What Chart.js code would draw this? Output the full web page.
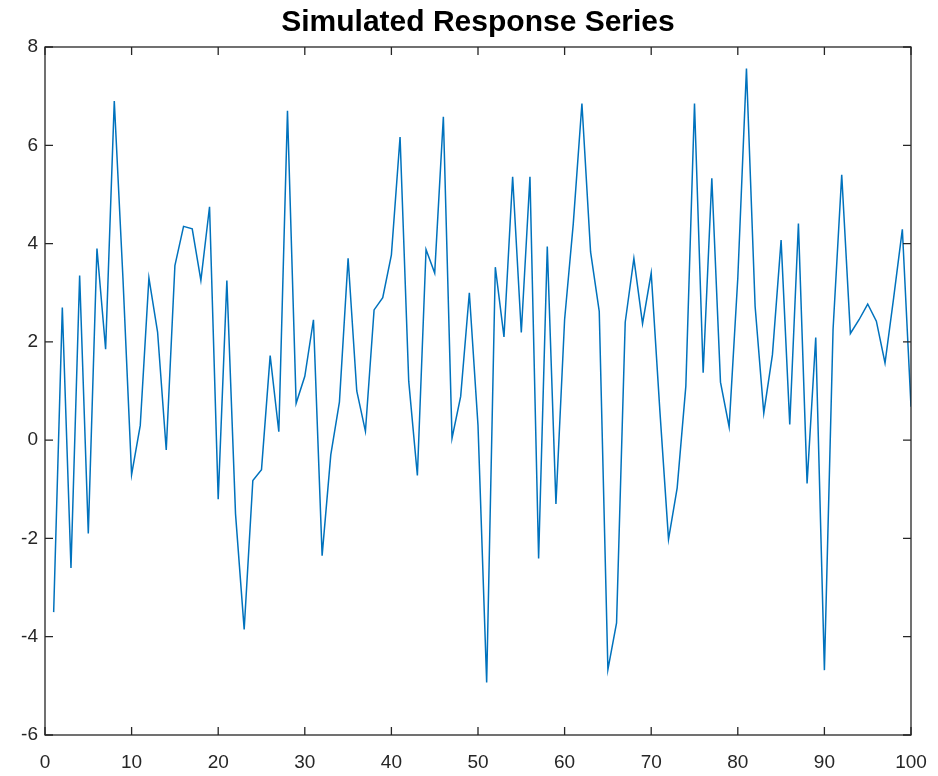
<!DOCTYPE html>
<html>
<head>
<meta charset="utf-8">
<script src="https://cdn.jsdelivr.net/npm/chart.js@4"></script>
<style>
    body { margin: 0; background: #fff; }
    #wrap { width: 938px; height: 776px; }
</style>
</head>
<body>
<div id="wrap"><canvas id="responseChart"></canvas></div>
<script>
/* DATA */
const sampleIndex = [
    1, 2, 3, 4, 5, 6, 7, 8, 9, 10, 11, 12, 13, 14, 15, 16, 17, 18, 19, 20,
    21, 22, 23, 24, 25, 26, 27, 28, 29, 30, 31, 32, 33, 34, 35, 36, 37, 38, 39, 40,
    41, 42, 43, 44, 45, 46, 47, 48, 49, 50, 51, 52, 53, 54, 55, 56, 57, 58, 59, 60,
    61, 62, 63, 64, 65, 66, 67, 68, 69, 70, 71, 72, 73, 74, 75, 76, 77, 78, 79, 80,
    81, 82, 83, 84, 85, 86, 87, 88, 89, 90, 91, 92, 93, 94, 95, 96, 97, 98, 99, 100
];
const response = [
    -3.5, 2.7, -2.6, 3.35, -1.9, 3.9, 1.85, 6.9, 3.3, -0.7,
    0.3, 3.3, 2.2, -0.2, 3.55, 4.35, 4.3, 3.25, 4.75, -1.2,
    3.25, -1.5, -3.85, -0.82, -0.6, 1.72, 0.17, 6.7, 0.75, 1.3,
    2.45, -2.35, -0.3, 0.78, 3.7, 1.0, 0.18, 2.65, 2.9, 3.77,
    6.17, 1.2, -0.72, 3.88, 3.4, 6.58, 0.04, 0.89, 3.0, 0.3,
    -4.93, 3.52, 2.1, 5.36, 2.19, 5.36, -2.41, 3.94, -1.3, 2.45,
    4.4, 6.85, 3.83, 2.62, -4.67, -3.72, 2.4, 3.7, 2.37, 3.4,
    0.6, -2.02, -0.97, 1.1, 6.85, 1.37, 5.33, 1.18, 0.27, 3.3,
    7.56, 2.72, 0.55, 1.74, 4.07, 0.32, 4.41, -0.88, 2.09, -4.68,
    2.25, 5.4, 2.17, 2.45, 2.77, 2.42, 1.57, 2.9, 4.29, 0.68
];
const xTicks = [0, 10, 20, 30, 40, 50, 60, 70, 80, 90, 100];
const yTicks = [-6, -4, -2, 0, 2, 4, 6, 8];

/* CHART CONFIG */
Chart.defaults.font.family = "'Liberation Sans', Arial, Helvetica, sans-serif";
Chart.defaults.color = "#262626";

// matlab-like box with inward ticks on all four sides
const boxTicks = {
    id: "boxTicks",
    afterLayout(chart) {
        // center the title over the plot box, not the whole canvas
        if (chart.titleBlock) {
            chart.titleBlock.left = chart.chartArea.left;
            chart.titleBlock.right = chart.chartArea.right;
        }
    },
    afterDraw(chart) {
        const { ctx, chartArea: a, scales } = chart;
        const len = 8;
        ctx.save();
        ctx.strokeStyle = "#262626";
        ctx.lineWidth = 1.3;
        ctx.strokeRect(a.left, a.top, a.right - a.left, a.bottom - a.top);
        ctx.beginPath();
        scales.x.ticks.forEach(t => {
            const px = scales.x.getPixelForValue(t.value);
            ctx.moveTo(px, a.bottom); ctx.lineTo(px, a.bottom - len);
            ctx.moveTo(px, a.top); ctx.lineTo(px, a.top + len);
        });
        scales.y.ticks.forEach(t => {
            const py = scales.y.getPixelForValue(t.value);
            ctx.moveTo(a.left, py); ctx.lineTo(a.left + len, py);
            ctx.moveTo(a.right, py); ctx.lineTo(a.right - len, py);
        });
        ctx.stroke();
        ctx.restore();
    }
};

new Chart(document.getElementById("responseChart"), {
    type: "line",
    data: {
        datasets: [{
            data: sampleIndex.map((x, i) => ({ x: x, y: response[i] })),
            borderColor: "#0072BD",
            borderWidth: 1.5,
            pointRadius: 0,
            tension: 0,
            fill: false
        }]
    },
    options: {
        responsive: true,
        maintainAspectRatio: false,
        animation: false,
        layout: { padding: { top: 0, right: 27, left: 0, bottom: 0 } },
        scales: {
            x: {
                type: "linear",
                min: xTicks[0],
                max: xTicks[xTicks.length - 1],
                afterBuildTicks: s => { s.ticks = xTicks.map(v => ({ value: v })); },
                afterFit: s => { s.height = 41; s.paddingLeft = 0; s.paddingRight = 0; },
                grid: { display: false, drawTicks: false },
                border: { display: false },
                ticks: { font: { size: 19 }, padding: 16, maxRotation: 0 }
            },
            y: {
                min: yTicks[0],
                max: yTicks[yTicks.length - 1],
                afterBuildTicks: s => { s.ticks = yTicks.map(v => ({ value: v })); },
                afterFit: s => { s.width = 45; },
                grid: { display: false, drawTicks: false },
                border: { display: false },
                ticks: { font: { size: 19 }, padding: 7 }
            }
        },
        plugins: {
            legend: { display: false },
            tooltip: { enabled: false },
            title: {
                display: true,
                text: "Simulated Response Series",
                color: "#000",
                font: { size: 30, weight: "bold" },
                padding: { top: 5, bottom: 6 }
            }
        }
    },
    plugins: [boxTicks]
});
</script>
</body>
</html>
